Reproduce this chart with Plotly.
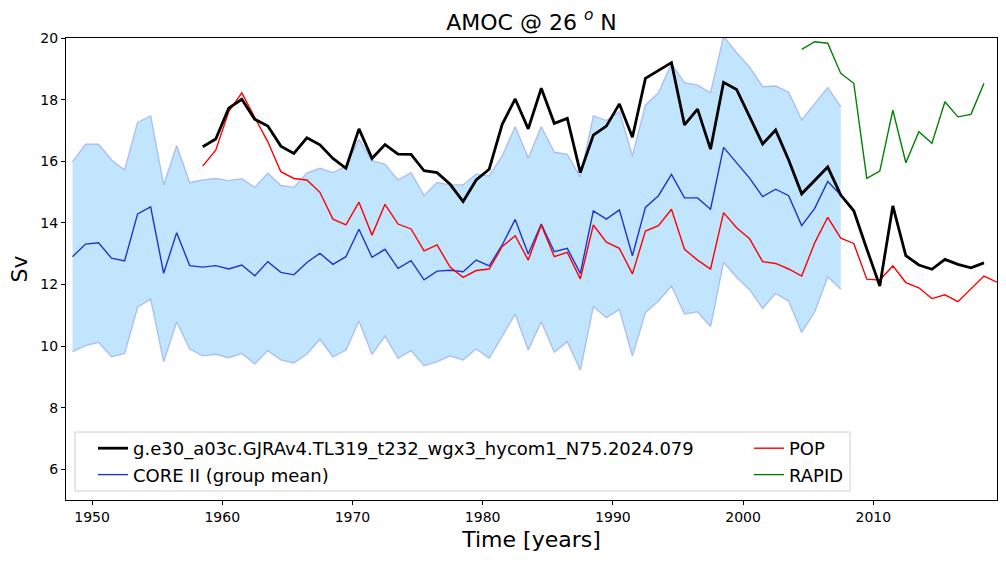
import numpy as np
import plotly.graph_objects as go

# ---------------- data ----------------
core_years = np.arange(1948.5, 2008.0, 1.0)
core_mean = [12.90, 13.31, 13.35, 12.85, 12.76, 14.29, 14.52, 12.36, 13.68, 12.61,
             12.56, 12.61, 12.50, 12.63, 12.28, 12.74, 12.39, 12.31, 12.71, 13.01,
             12.65, 12.90, 13.79, 12.88, 13.14, 12.52, 12.77, 12.15, 12.43, 12.46,
             12.41, 12.79, 12.60, 13.28, 14.11, 12.99, 13.96, 13.06, 13.17, 12.36,
             14.39, 14.12, 14.42, 12.93, 14.50, 14.88, 15.57, 14.81, 14.81, 14.44,
             16.45, 15.95, 15.45, 14.85, 15.09, 14.88, 13.91, 14.47, 15.34, 14.90]
core_max = [15.98, 16.55, 16.55, 16.04, 15.71, 17.26, 17.47, 15.23, 16.50, 15.30,
            15.39, 15.44, 15.37, 15.43, 15.15, 15.61, 15.21, 15.15, 15.61, 15.77,
            15.63, 15.84, 16.71, 16.02, 15.90, 15.39, 15.63, 14.88, 15.31, 15.23,
            15.23, 15.58, 15.52, 16.17, 17.12, 16.10, 17.12, 16.29, 16.22, 15.48,
            17.47, 17.32, 17.61, 16.17, 17.82, 18.22, 19.16, 18.55, 18.47, 18.22,
            20.05, 19.52, 19.05, 18.42, 18.44, 18.24, 17.34, 17.86, 18.39, 17.77]
core_min = [9.82, 10.01, 10.12, 9.65, 9.76, 11.26, 11.53, 9.49, 10.79, 9.90,
            9.68, 9.73, 9.62, 9.76, 9.42, 9.85, 9.55, 9.45, 9.74, 10.22,
            9.65, 9.87, 10.81, 9.73, 10.32, 9.60, 9.85, 9.36, 9.49, 9.68,
            9.55, 9.91, 9.60, 10.30, 11.04, 9.87, 10.79, 9.80, 10.14, 9.22,
            11.28, 10.92, 11.19, 9.68, 11.09, 11.46, 11.95, 11.04, 11.11, 10.63,
            12.72, 12.23, 11.83, 11.22, 11.71, 11.46, 10.44, 11.11, 12.25, 11.84]

model_years = np.arange(1958.5, 2019.0, 1.0)
model_amoc = [16.47, 16.72, 17.72, 18.01, 17.36, 17.14, 16.49, 16.25, 16.76, 16.53,
              16.09, 15.77, 17.05, 16.09, 16.54, 16.23, 16.22, 15.69, 15.63, 15.25,
              14.69, 15.39, 15.74, 17.20, 18.02, 17.05, 18.37, 17.23, 17.39, 15.63,
              16.85, 17.14, 17.86, 16.78, 18.69, 18.94, 19.20, 17.18, 17.69, 16.39,
              18.56, 18.33, 17.47, 16.56, 17.01, 16.04, 14.94, 15.37, 15.81, 14.90,
              14.39, 13.15, 11.95, 14.55, 12.93, 12.63, 12.49, 12.81, 12.65, 12.54,
              12.70]

pop_years = np.arange(1958.5, 2020.0, 1.0)
pop_amoc = [15.84, 16.36, 17.61, 18.22, 17.42, 16.63, 15.66, 15.44, 15.39, 14.99,
            14.12, 13.93, 14.67, 13.60, 14.60, 13.96, 13.80, 13.09, 13.28, 12.56,
            12.23, 12.45, 12.50, 13.23, 13.58, 12.79, 13.93, 12.90, 13.04, 12.18,
            13.93, 13.37, 13.17, 12.34, 13.73, 13.91, 14.44, 13.14, 12.79, 12.50,
            14.33, 13.84, 13.48, 12.74, 12.68, 12.50, 12.27, 13.35, 14.18, 13.50,
            13.33, 12.17, 12.14, 12.60, 12.06, 11.89, 11.54, 11.66, 11.44, 11.84,
            12.27, 12.07]

rapid_years = np.arange(2004.5, 2019.0, 1.0)
rapid_amoc = [19.63, 19.88, 19.83, 18.85, 18.53, 15.44, 15.68, 17.66, 15.95, 16.96,
              16.58, 17.93, 17.44, 17.52, 18.53]

model_label = "g.e30_a03c.GJRAv4.TL319_t232_wgx3_hycom1_N75.2024.079"
x_ticks = [1950, 1960, 1970, 1980, 1990, 2000, 2010]
y_ticks = [6, 8, 10, 12, 14, 16, 18, 20]

# ---------------- figure ----------------
FONT = "DejaVu Sans"
band_edge = "#abbff4"
band_fill = "rgb(193,229,253)"

fig = go.Figure()
fig.add_trace(go.Scatter(x=core_years, y=core_max, mode="lines",
                         line=dict(color=band_edge, width=1.4),
                         showlegend=False, hoverinfo="skip"))
fig.add_trace(go.Scatter(x=core_years, y=core_min, mode="lines",
                         line=dict(color=band_edge, width=1.4),
                         fill="tonexty", fillcolor=band_fill,
                         showlegend=False, hoverinfo="skip"))
fig.add_trace(go.Scatter(x=core_years, y=core_mean, mode="lines",
                         line=dict(color="#2233cc", width=1.4),
                         name="CORE II (group mean)", legend="legend",
                         legendgroup="b", legendrank=2))
fig.add_trace(go.Scatter(x=pop_years, y=pop_amoc, mode="lines",
                         line=dict(color="#ff0000", width=1.4),
                         name="POP", legend="legend2", legendgroup="c", legendrank=1))
fig.add_trace(go.Scatter(x=rapid_years, y=rapid_amoc, mode="lines",
                         line=dict(color="#008000", width=1.4),
                         name="RAPID", legend="legend2", legendgroup="d", legendrank=2))
fig.add_trace(go.Scatter(x=model_years, y=model_amoc, mode="lines",
                         line=dict(color="black", width=2.8),
                         name=model_label, legend="legend",
                         legendgroup="a", legendrank=1))

W, H = 1006, 562
L, R, T, B = 66, 9, 38, 62
pw, ph = W - L - R, H - T - B

def px_x(p):
    return (p - L) / pw

def px_y(p):
    return (H - B - p) / ph

legend_common = dict(font=dict(family=FONT, size=18, color="black"),
                     bgcolor="rgba(0,0,0,0)", borderwidth=0,
                     traceorder="grouped", tracegroupgap=0,
                     xanchor="left", yanchor="top", orientation="v")

fig.update_layout(
    width=W, height=H,
    margin=dict(l=L, r=R, t=T, b=B),
    paper_bgcolor="white", plot_bgcolor="white",
    font=dict(family=FONT, color="black"),
    title=dict(text="AMOC @ 26 <sup><i>o</i></sup> N", x=0.5, xref="paper",
               xanchor="center", y=1 - 22 / H, yref="container", yanchor="middle",
               font=dict(family=FONT, size=22, color="black")),
    showlegend=True,
    legend=dict(x=px_x(93), y=px_y(430), **legend_common),
    legend2=dict(x=px_x(749), y=px_y(430), **legend_common),
    shapes=[dict(type="rect", xref="paper", yref="paper",
                 x0=px_x(75), x1=px_x(850), y0=px_y(491), y1=px_y(432),
                 line=dict(color="#d0d0d0", width=1),
                 fillcolor="rgba(255,255,255,0.8)", layer="above")],
)

fig.update_xaxes(range=[1948.0, 2019.5], tickvals=x_ticks,
                 ticks="outside", ticklen=4, tickwidth=1, tickcolor="black",
                 showline=True, linecolor="black", linewidth=1, mirror=True,
                 showgrid=False, zeroline=False,
                 tickfont=dict(family=FONT, size=14, color="black"),
                 title=dict(text="Time [years]", standoff=7,
                            font=dict(family=FONT, size=22, color="black")))
fig.update_yaxes(range=[5, 20], tickvals=y_ticks,
                 ticks="outside", ticklen=4, tickwidth=1, tickcolor="black",
                 showline=True, linecolor="black", linewidth=1, mirror=True,
                 showgrid=False, zeroline=False,
                 tickfont=dict(family=FONT, size=14, color="black"),
                 title=dict(text="Sv", standoff=6,
                            font=dict(family=FONT, size=22, color="black")))

fig.write_html("out.html")
